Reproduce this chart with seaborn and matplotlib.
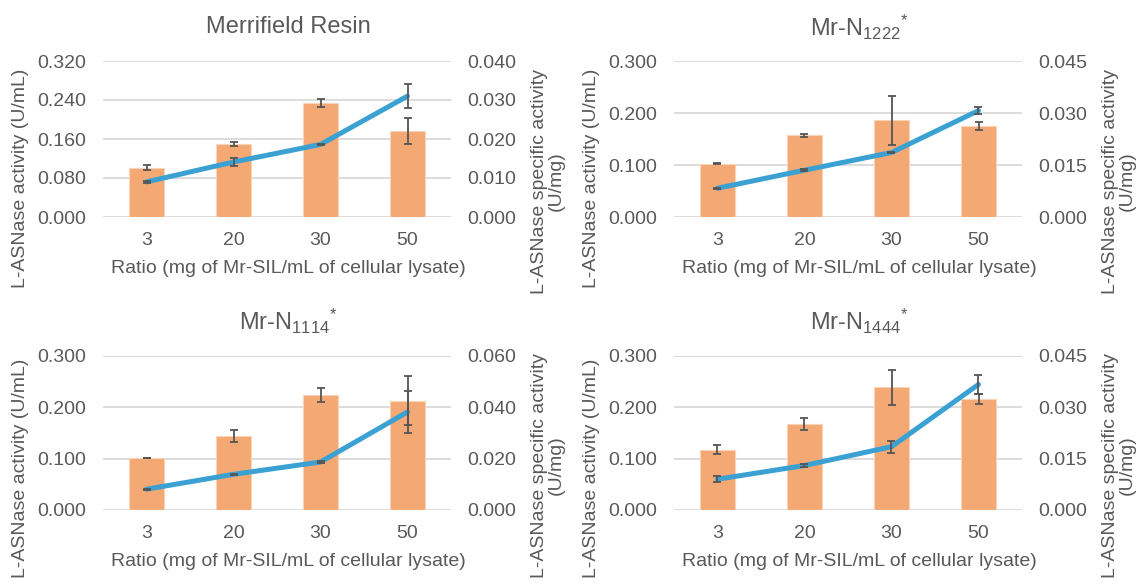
import numpy as np
import pandas as pd
import matplotlib
matplotlib.use("Agg")
import matplotlib.pyplot as plt
import seaborn as sns

# ---------------- data ----------------
ratios = ["3", "20", "30", "50"]

titles = ["Merrifield Resin", "Mr-N$_{1222}{}^{*}$", "Mr-N$_{1114}{}^{*}$", "Mr-N$_{1444}{}^{*}$"]

act_merrifield = [0.101, 0.149, 0.234, 0.177]
act_err_merrifield = [0.005, 0.004, 0.009, 0.027]
spec_merrifield = [0.0090, 0.0141, 0.0186, 0.0310]
spec_err_merrifield = [0.0002, 0.0011, 0.0002, 0.0031]

act_n1222 = [0.102, 0.157, 0.186, 0.175]
act_err_n1222 = [0.001, 0.003, 0.047, 0.0075]
spec_n1222 = [0.0083, 0.0135, 0.0186, 0.0307]
spec_err_n1222 = [0.0002, 0.0003, 0.0002, 0.0011]

act_n1114 = [0.101, 0.144, 0.224, 0.213]
act_err_n1114 = [0.0006, 0.012, 0.014, 0.048]
spec_n1114 = [0.0081, 0.0139, 0.0187, 0.0382]
spec_err_n1114 = [0.0002, 0.0002, 0.0003, 0.0083]

act_n1444 = [0.117, 0.168, 0.239, 0.216]
act_err_n1444 = [0.0088, 0.012, 0.034, 0.0095]
spec_n1444 = [0.0090, 0.0130, 0.0185, 0.0367]
spec_err_n1444 = [0.0009, 0.0003, 0.0017, 0.0027]

left_ticks = [[0.0, 0.08, 0.16, 0.24, 0.32], [0.0, 0.1, 0.2, 0.3], [0.0, 0.1, 0.2, 0.3], [0.0, 0.1, 0.2, 0.3]]
right_ticks = [[0.0, 0.01, 0.02, 0.03, 0.04], [0.0, 0.015, 0.03, 0.045], [0.0, 0.02, 0.04, 0.06], [0.0, 0.015, 0.03, 0.045]]

xlabel = "Ratio (mg of Mr-SIL/mL of cellular lysate)"
ylabel_left = "L-ASNase activity (U/mL)"
ylabel_right = "L-ASNase specific activity\n(U/mg)"

# ---------------- style ----------------
sns.set_theme(style="white")
plt.rcParams["font.family"] = ["Liberation Sans", "DejaVu Sans"]
plt.rcParams["mathtext.default"] = "regular"

TXT = "#595959"
BAR = "#F4A874"
LINE = "#3BA1D3"
ERR = "#555555"
GRID = "#D9D9D9"

W, H = 1138, 584
fig = plt.figure(figsize=(W / 100, H / 100), dpi=100)
fig.patch.set_facecolor("white")


def ftext(xp, yp, s, **kw):
    fig.text(xp / W, 1 - yp / H, s, color=TXT, **kw)


panels = [
    (act_merrifield, act_err_merrifield, spec_merrifield, spec_err_merrifield),
    (act_n1222, act_err_n1222, spec_n1222, spec_err_n1222),
    (act_n1114, act_err_n1114, spec_n1114, spec_err_n1114),
    (act_n1444, act_err_n1444, spec_n1444, spec_err_n1444),
]

# axes rectangles in pixels: (x0, x1, ytop, ybottom)
rects = [(103, 451, 61, 217), (674, 1022, 61, 217), (103, 451, 356, 510), (674, 1022, 356, 510)]
offsets = [(0, 0), (571, 0), (0, 294), (571, 294)]

for i, ((act, act_err, spec, spec_err), (x0, x1, yt, yb), (dx, dy)) in enumerate(zip(panels, rects, offsets)):
    ax = fig.add_axes([x0 / W, 1 - yb / H, (x1 - x0) / W, (yb - yt) / H])
    df = pd.DataFrame({"ratio": ratios, "act": act})
    sns.barplot(data=df, x="ratio", y="act", order=ratios, color=BAR, saturation=1,
                width=0.4, errorbar=None, ax=ax, edgecolor="#FBD3B8", linewidth=0.8)
    pos = np.arange(len(ratios))
    ax.errorbar(pos, act, yerr=act_err, fmt="none", ecolor=ERR, elinewidth=1.3,
                capsize=3.2, capthick=1.3, zorder=4)
    lt = left_ticks[i]
    ax.set_ylim(lt[0], lt[-1])
    ax.set_yticks(lt)
    ax.set_yticklabels([f"{v:.3f}" for v in lt])
    ax.set_xlim(-0.5, len(ratios) - 0.5)
    ax.yaxis.grid(True, color=GRID, lw=1.3)
    ax.xaxis.grid(False)
    ax.set_axisbelow(True)
    ax.set_xlabel("")
    ax.set_ylabel("")
    ax.tick_params(axis="y", length=0, pad=12, labelsize=14, labelcolor=TXT)
    ax.tick_params(axis="x", length=0, pad=11, labelsize=14, labelcolor=TXT)
    for s in ax.spines.values():
        s.set_visible(False)

    ax2 = ax.twinx()
    sns.lineplot(x=pos, y=spec, ax=ax2, color=LINE, lw=3.6, sort=False, zorder=3)
    ax2.errorbar(pos, spec, yerr=spec_err, fmt="none", ecolor=ERR, elinewidth=1.3,
                 capsize=3.2, capthick=1.3, zorder=5)
    rt = right_ticks[i]
    ax2.set_ylim(rt[0], rt[-1])
    ax2.set_yticks(rt)
    ax2.set_yticklabels([f"{v:.3f}" for v in rt])
    ax2.grid(False)
    ax2.set_ylabel("")
    ax2.tick_params(axis="y", length=0, pad=12, labelsize=14, labelcolor=TXT)
    for s in ax2.spines.values():
        s.set_visible(False)

    # titles and axis labels
    ftext(288 + dx, 27 + dy, titles[i], ha="center", va="center", fontsize=17)
    ftext(288 + dx, 268 + dy, xlabel, ha="center", va="center", fontsize=14)
    ftext(21 + dx, 178 + dy - (4 if dy else 0), ylabel_left, ha="center", va="center",
          rotation=90, fontsize=14)
    ftext(548 + dx, 181 + dy - (10 if dy else 0), ylabel_right, ha="center", va="center",
          rotation=90, fontsize=14, multialignment="center", linespacing=1.0)

fig.savefig("out.png", dpi=100, facecolor="white")
